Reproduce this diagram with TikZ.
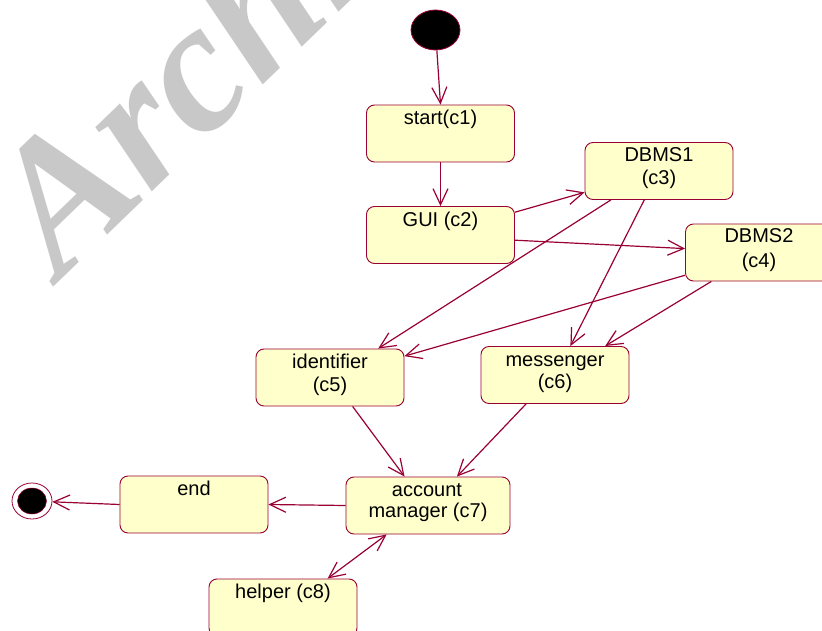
\documentclass[tikz,border=0pt]{standalone}
\usepackage{fontspec}
\setmainfont{Liberation Sans}
\newfontfamily\wmfont{Liberation Serif}
\usetikzlibrary{arrows.meta,shapes.geometric}
\definecolor{edgecol}{RGB}{153,0,51}
\definecolor{boxfill}{RGB}{255,255,204}
\definecolor{wmcol}{RGB}{200,200,200}
\begin{document}
\begin{tikzpicture}[x=1pt,y=-1pt,
  statebox/.style={draw=edgecol,fill=boxfill,rounded corners=8pt,minimum width=148pt,minimum height=57pt,inner sep=0pt,line width=0.9pt},
  lbl/.style={anchor=base,inner sep=0pt,font=\fontsize{20}{22.5}\selectfont},
  barb/.tip={Straight Barb[length=16pt,width=15pt]},
  flow/.style={draw=edgecol,line width=1.2pt,-barb},
  wmark/.style={anchor=base west,rotate=44,inner sep=0pt,text=wmcol,font=\wmfont\bfseries\itshape\fontsize{186}{186}\selectfont}
]
\useasboundingbox (0,0) rectangle (822,631);
\begin{scope}
  \clip (0,0) rectangle (822,631);
  \node[wmark] (wm) at (60,281) {Archive};
\end{scope}

% states
\node[ellipse,draw=edgecol,fill=black,minimum width=49pt,minimum height=40pt,inner sep=0pt,line width=0.8pt] (init) at (435.5,30) {};
\node[statebox] (c1) at (440.5,133.5) {};
\node[statebox] (c2) at (440.5,235) {};
\node[statebox] (c3) at (659,171) {};
\node[statebox] (c4) at (759.5,252.5) {};
\node[statebox] (c5) at (330,377.5) {};
\node[statebox] (c6) at (555,375) {};
\node[statebox] (cend) at (194,504.5) {};
\node[statebox,minimum width=164pt] (c7) at (428,505.5) {};
\node[statebox] (c8) at (283,607.5) {};
\node[ellipse,draw=edgecol,fill=white,minimum width=40pt,minimum height=36pt,inner sep=0pt,line width=0.8pt] (fin) at (32,501) {};
\node[ellipse,draw=edgecol,fill=black,minimum width=29pt,minimum height=26pt,inner sep=0pt,line width=0.5pt] (finin) at (32,501) {};

% labels
\node[lbl] (l1) at (440.5,125) {start(c1)};
\node[lbl] (l2) at (440.5,227) {GUI (c2)};
\node[lbl] (l3a) at (659,162) {DBMS1};
\node[lbl] (l3b) at (659,185) {(c3)};
\node[lbl] (l4a) at (759,243) {DBMS2};
\node[lbl] (l4b) at (759,267) {(c4)};
\node[lbl] (l5a) at (330,368) {identifier};
\node[lbl] (l5b) at (330,391) {(c5)};
\node[lbl] (l6a) at (555,366) {messenger};
\node[lbl] (l6b) at (555,388) {(c6)};
\node[lbl] (lend) at (194,495) {end};
\node[lbl] (l7a) at (427,496) {account};
\node[lbl] (l7b) at (428,517) {manager (c7)};
\node[lbl] (l8) at (283,598) {helper (c8)};

% transitions
\draw[flow] (init) -- (c1.north);
\draw[flow] (c1.south) -- (c2.north);
\draw[flow] (c2.17) -- (c3.196);
\draw[flow] (c2.356) -- (c4.177);
\draw[flow] (c3.211) -- (c5.31);
\draw[flow] (c3.243) -- (c6.62);
\draw[flow] (c4.197) -- (c5.16);
\draw[flow] (c4.211) -- (c6.30);
\draw[flow] (c5.308) -- (c7.129);
\draw[flow] (c6.225) -- (c7.45);
\draw[flow] (c7.west) -- (cend.east);
\draw[flow] (cend.west) -- (fin);
\draw[flow,barb-barb] (c7.215) -- (c8.33);
\end{tikzpicture}
\end{document}
